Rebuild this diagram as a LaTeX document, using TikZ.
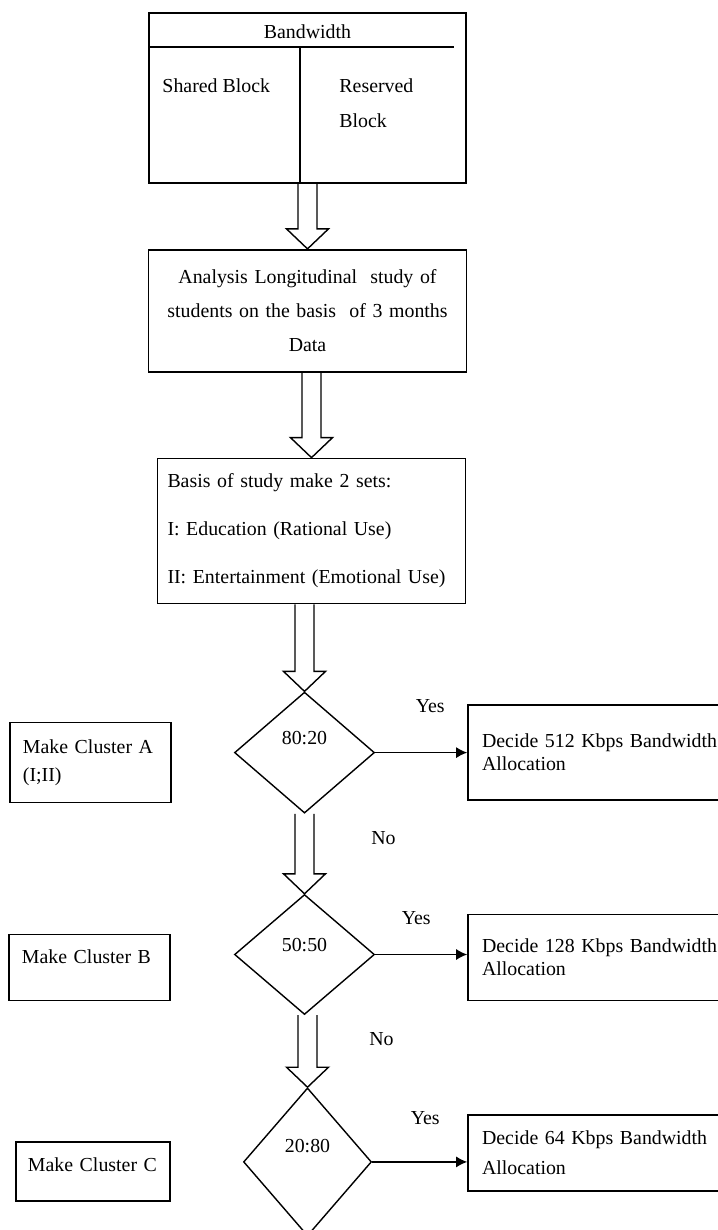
\documentclass[tikz,border=0pt]{standalone}
\usepackage{fontspec}
\setmainfont{Liberation Serif}
\usetikzlibrary{arrows, arrows.meta, positioning, shapes.geometric, calc}
\tikzset{
    %Define standard arrow tip
    >={Latex[length=2.2mm,width=2.2mm]},
}
% hollow block arrow between two anchors
\newcommand{\fatarrow}[2]{%
  \draw[fat] let \p1=(#1), \p2=(#2) in
    (\x2-0.19cm,\y1) -- (\x2-0.19cm,\y2+0.4cm) -- (\x2-0.42cm,\y2+0.4cm)
    -- (\x2,\y2) -- (\x2+0.42cm,\y2+0.4cm) -- (\x2+0.19cm,\y2+0.4cm)
    -- (\x2+0.19cm,\y1);}

\begin{document}
\begin{tikzpicture}
    \tikzset{
      wn/.style={draw, shape=rectangle, line width=1pt, inner sep=0pt,
                 font=\fontsize{11.3}{13}\selectfont},
      dm/.style={draw, shape=diamond, line width=0.8pt, inner sep=0pt,
                 font=\fontsize{11.3}{13}\selectfont},
      txt/.style={inner sep=0pt, font=\fontsize{11.3}{13}\selectfont},
      fat/.style={line width=0.8pt},
    }
    \useasboundingbox (0,0) rectangle (14.34,-24.6);

    % top block
    \node [wn, minimum width=6.34cm, minimum height=3.4cm] (bw) at (6.15,-1.96) {};
    \coordinate (hl) at ([yshift=-0.7cm]bw.north west);
    \coordinate (dv) at ([xshift=-0.15cm]hl -| bw.north);
    \draw[line width=1pt] (hl) -- ([xshift=-0.26cm]hl -| bw.east);
    \draw[line width=0.8pt] (dv) -- (dv |- bw.south);
    \node [txt] (bwt) at ([yshift=-0.4cm]bw.north) {Bandwidth};
    \node [txt, anchor=west] (shared) at ([xshift=0.28cm, yshift=-1.48cm]bw.north west) {Shared Block};
    \node [txt, anchor=west, align=left, font=\fontsize{11.3}{19.9}\selectfont]
          (reserved) at ([xshift=3.82cm, yshift=-1.83cm]bw.north west) {Reserved\\Block};

    % main column
    \node [wn, below=1.3cm of bw, minimum width=6.36cm, minimum height=2.44cm,
           text width=6cm, align=center, font=\fontsize{11.3}{19.4}\selectfont] (ana)
          {Analysis Longitudinal\ \ study of\\students on the basis\ \ of 3 months\\Data};
    \node [wn, below=1.7cm of ana, xshift=0.08cm, minimum width=6.16cm, minimum height=2.9cm,
           inner xsep=0.2cm, text width=5.76cm, align=left, font=\fontsize{11.3}{27.3}\selectfont] (sets)
          {Basis of study make 2 sets:\\I: Education (Rational Use)\\II: Entertainment (Emotional Use)};
    \node [dm, below=1.74cm of sets, xshift=-0.14cm, minimum width=2.8cm, minimum height=2.42cm,
           text depth=0.6cm] (d1) {80:20};
    \node [dm, below=1.6cm of d1, minimum width=2.8cm, minimum height=2.4cm,
           text depth=0.4cm] (d2) {50:50};
    \node [dm, below=1.44cm of d2, xshift=0.06cm, minimum width=2.56cm, minimum height=2.96cm,
           text depth=0.64cm] (d3) {20:80};

    % allocation boxes
    \node [wn, right=1.84cm of d1, minimum height=1.9cm, inner xsep=0.28cm,
           text width=4.75cm, align=left] (dec1) {Decide 512 Kbps Bandwidth\\Allocation};
    \node [wn, right=1.84cm of d2, yshift=-0.06cm, minimum height=1.72cm, inner xsep=0.28cm,
           text width=4.75cm, align=left] (dec2) {Decide 128 Kbps Bandwidth\\Allocation};
    \node [wn, right=1.9cm of d3, yshift=0.18cm, minimum height=1.52cm, inner xsep=0.28cm,
           text width=4.75cm, align=left, font=\fontsize{11.3}{17}\selectfont] (dec3)
          {Decide 64 Kbps Bandwidth\\Allocation};

    % cluster boxes
    \node [wn, left=1.24cm of d1, yshift=-0.2cm, minimum height=1.6cm, inner xsep=0.26cm,
           text width=2.7cm, align=left, font=\fontsize{11.3}{16}\selectfont] (clA)
          {Make Cluster A\\(I;II)};
    \node [wn, left=1.26cm of d2, yshift=-0.26cm, minimum height=1.32cm, inner xsep=0.26cm,
           text width=2.7cm, align=left, text depth=0.44cm] (clB) {Make Cluster B};
    \node [wn, left=1.44cm of d3, yshift=-0.19cm, minimum height=1.18cm, inner xsep=0.24cm,
           text width=2.6cm, align=left, text depth=0.26cm] (clC) {Make Cluster C};

    \fatarrow{bw.south}{ana.north}
    \fatarrow{ana.south}{sets.north}
    \fatarrow{sets.south}{d1.north}
    \fatarrow{d1.south}{d2.north}
    \fatarrow{d2.south}{d3.north}

    \draw[->, line width=0.8pt] (d1.east) -- (d1.east -| dec1.west);
    \draw[->, line width=0.8pt] (d2.east) -- (d2.east -| dec2.west);
    \draw[->, line width=0.8pt] (d3.east) -- (d3.east -| dec3.west);

    \node [txt] (yes1) at ([xshift=1.1cm, yshift=0.94cm]d1.east) {Yes};
    \node [txt] (yes2) at ([xshift=0.82cm, yshift=0.72cm]d2.east) {Yes};
    \node [txt] (yes3) at ([xshift=1.06cm, yshift=0.88cm]d3.east) {Yes};
    \node [txt] (no1) at ([xshift=1.58cm, yshift=-0.48cm]d1.south) {No};
    \node [txt] (no2) at ([xshift=1.54cm, yshift=-0.48cm]d2.south) {No};

\end{tikzpicture}
\end{document}
